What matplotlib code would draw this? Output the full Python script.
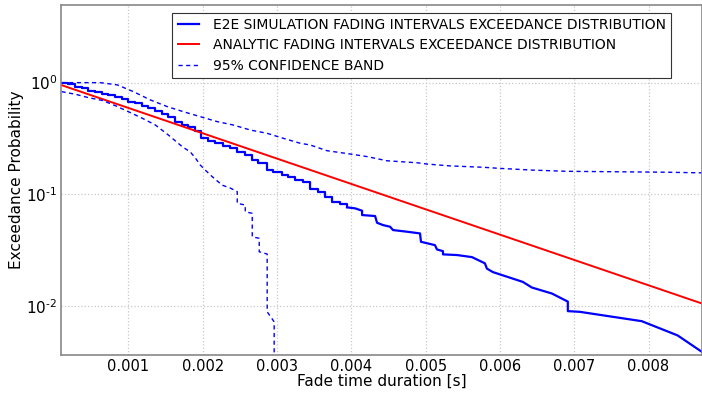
import numpy as np
import matplotlib
matplotlib.use("Agg")
import matplotlib.pyplot as plt
from matplotlib.ticker import FixedLocator, NullLocator

# E2E simulation, stepped part: drop position [s] and level held until next drop
sim_step_t = [0.000100, 0.000194, 0.000288, 0.000382, 0.000462, 0.000556, 0.000651,
              0.000731, 0.000825, 0.000919, 0.001000, 0.001094, 0.001188, 0.001269,
              0.001363, 0.001457, 0.001538, 0.001632, 0.001726, 0.001806, 0.001901,
              0.001981, 0.002075, 0.002169, 0.002277, 0.002371, 0.002465, 0.002573,
              0.002667, 0.002747, 0.002868, 0.002949, 0.003070, 0.003151, 0.003245,
              0.003352, 0.003446, 0.003554, 0.003648, 0.003742, 0.003849, 0.003944]
sim_step_p = [1.000, 0.964, 0.921, 0.891, 0.848, 0.826, 0.792,
              0.771, 0.745, 0.710, 0.676, 0.654, 0.618, 0.590,
              0.562, 0.525, 0.496, 0.448, 0.418, 0.399, 0.366,
              0.322, 0.301, 0.287, 0.273, 0.262, 0.241, 0.225,
              0.203, 0.190, 0.165, 0.159, 0.149, 0.142, 0.135,
              0.128, 0.113, 0.106, 0.0954, 0.0850, 0.0815, 0.0766]

# E2E simulation, sparse tail
sim_tail_t = [0.003944, 0.004051, 0.004145, 0.004145, 0.004320, 0.004347, 0.004427,
              0.004522, 0.004562, 0.004750, 0.004925, 0.004938, 0.005126, 0.005153,
              0.005234, 0.005234, 0.005422, 0.005624, 0.005798, 0.005825, 0.005906,
              0.006309, 0.006430, 0.006699, 0.006914, 0.006914, 0.007075, 0.007909,
              0.008392, 0.008715]
sim_tail_p = [0.0766, 0.0751, 0.0715, 0.0654, 0.0641, 0.0558, 0.0532,
              0.0514, 0.0480, 0.0464, 0.0448, 0.0377, 0.0352, 0.0322,
              0.0311, 0.0291, 0.0287, 0.0275, 0.0242, 0.0217, 0.0202,
              0.0165, 0.0147, 0.0130, 0.0110, 0.00904, 0.00891, 0.00735,
              0.00548, 0.00392]

# analytic (exponential) exceedance, straight on log axis
ana_t = [0.000100, 0.008715]
ana_p = [0.950, 0.0106]

# 95% confidence band
up_t = [0.000100, 0.000624, 0.000852, 0.001067, 0.001296, 0.001524, 0.001739,
        0.001968, 0.002196, 0.002411, 0.002640, 0.002868, 0.003083, 0.003312,
        0.003446, 0.003675, 0.003984, 0.004212, 0.004481, 0.004884, 0.005019,
        0.005328, 0.005772, 0.006000, 0.006444, 0.006901, 0.007344, 0.007788,
        0.008245, 0.008715]
up_p = [1.000, 1.000, 0.954, 0.831, 0.700, 0.610, 0.550,
        0.496, 0.448, 0.418, 0.377, 0.352, 0.318, 0.287,
        0.277, 0.246, 0.230, 0.218, 0.200, 0.192, 0.187,
        0.180, 0.175, 0.171, 0.165, 0.161, 0.160, 0.159,
        0.158, 0.156]

lo_t = [0.000100, 0.000288, 0.000462, 0.000651, 0.000825, 0.001000, 0.001188,
        0.001363, 0.001538, 0.001726, 0.001833, 0.001901, 0.001968, 0.002035,
        0.002129, 0.002263, 0.002371, 0.002465, 0.002465, 0.002573, 0.002573,
        0.002667, 0.002667, 0.002761, 0.002761, 0.002868, 0.002868, 0.002962,
        0.002962]
lo_p = [0.831, 0.787, 0.734, 0.693, 0.622, 0.550, 0.480,
        0.418, 0.340, 0.267, 0.240, 0.212, 0.183, 0.165,
        0.144, 0.121, 0.114, 0.106, 0.0832, 0.0804, 0.0700,
        0.0677, 0.0418, 0.0405, 0.0307, 0.0293, 0.00891, 0.00725,
        0.001]

xticks = [0.001, 0.002, 0.003, 0.004, 0.005, 0.006, 0.007, 0.008]
yticks = [1.0, 0.1, 0.01]
ytick_labels = [r'$10^{0}$', r'$10^{\text{-}1}$', r'$10^{\text{-}2}$']

fig = plt.figure(figsize=(7.02, 3.94), dpi=100)
ax = fig.add_axes([61.5 / 702, 39.5 / 394, 640.5 / 702, 350 / 394])

ax.plot(sim_step_t, sim_step_p, color='#0000ff', lw=1.6, drawstyle='steps-post',
        label='E2E SIMULATION FADING INTERVALS EXCEEDANCE DISTRIBUTION')
ax.plot(sim_tail_t, sim_tail_p, color='#0000ff', lw=1.6)
ax.plot(ana_t, ana_p, color='#ff0000', lw=1.4,
        label='ANALYTIC FADING INTERVALS EXCEEDANCE DISTRIBUTION')
ax.plot(up_t, up_p, color='#0000ff', lw=1.0, ls='--', dashes=(3, 2.5),
        label='95% CONFIDENCE BAND')
ax.plot(lo_t, lo_p, color='#0000ff', lw=1.0, ls='--', dashes=(3, 2.5))

ax.set_yscale('log')
ax.set_xlim(0.0001, 0.00872)
ax.set_ylim(0.0037, 5.0)
ax.xaxis.set_major_locator(FixedLocator(xticks))
ax.set_xticklabels(['%.3f' % t for t in xticks])
ax.yaxis.set_major_locator(FixedLocator(yticks))
ax.yaxis.set_minor_locator(NullLocator())
ax.set_yticklabels(ytick_labels)

ax.grid(True, which='major', color='#c8c8c8', linestyle=':', linewidth=0.9)
ax.tick_params(axis='x', length=0, labelsize=10.5, pad=3)
ax.tick_params(axis='y', length=0, labelsize=11, pad=3)
for s in ax.spines.values():
    s.set_color('#888888')
    s.set_linewidth(1.2)

ax.set_xlabel('Fade time duration [s]', fontsize=11, labelpad=0)
ax.set_ylabel('Exceedance Probability', fontsize=11)
ax.yaxis.set_label_coords(-0.058, 0.5)

leg = ax.legend(loc='upper right', bbox_to_anchor=(0.952, 0.977), borderaxespad=0,
                fontsize=10, fancybox=False, framealpha=1, edgecolor='#333333',
                handlelength=1.5, handletextpad=1.0, labelspacing=0.45)
leg.get_frame().set_linewidth(0.8)

fig.savefig('out.png', dpi=100)
